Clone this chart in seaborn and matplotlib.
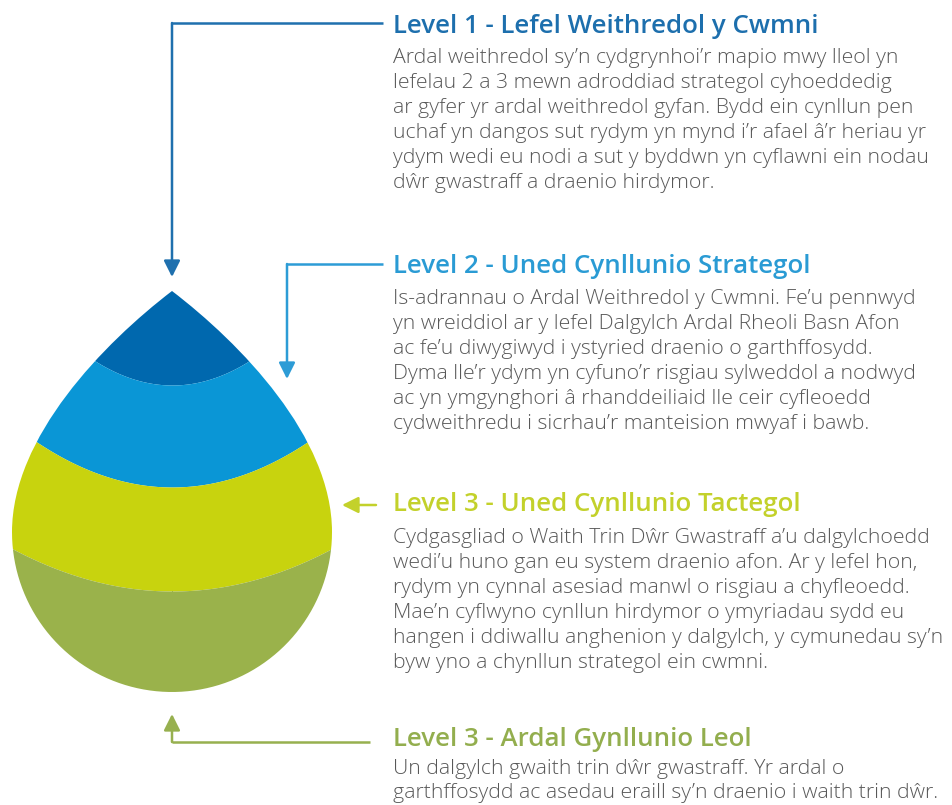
import numpy as np
import matplotlib
matplotlib.use("Agg")
import matplotlib.pyplot as plt
from matplotlib.path import Path
from matplotlib.patches import PathPatch
import seaborn as sns

# ---------------- data ----------------
levels = ["Level 1", "Level 2", "Level 3", "Level 3"]
names = ["Lefel Weithredol y Cwmni", "Uned Cynllunio Strategol",
         "Uned Cynllunio Tactegol", "Ardal Gynllunio Leol"]
body_level1 = [
    "Ardal weithredol sy’n cydgrynhoi’r mapio mwy lleol yn",
    "lefelau 2 a 3 mewn adroddiad strategol cyhoeddedig",
    "ar gyfer yr ardal weithredol gyfan. Bydd ein cynllun pen",
    "uchaf yn dangos sut rydym yn mynd i’r afael â’r heriau yr",
    "ydym wedi eu nodi a sut y byddwn yn cyflawni ein nodau",
    "dŵr gwastraff a draenio hirdymor.",
]
body_level2 = [
    "Is-adrannau o Ardal Weithredol y Cwmni. Fe’u pennwyd",
    "yn wreiddiol ar y lefel Dalgylch Ardal Rheoli Basn Afon",
    "ac fe’u diwygiwyd i ystyried draenio o garthffosydd.",
    "Dyma lle’r ydym yn cyfuno’r risgiau sylweddol a nodwyd",
    "ac yn ymgynghori â rhanddeiliaid lle ceir cyfleoedd",
    "cydweithredu i sicrhau’r manteision mwyaf i bawb.",
]
body_level3 = [
    "Cydgasgliad o Waith Trin Dŵr Gwastraff a’u dalgylchoedd",
    "wedi’u huno gan eu system draenio afon. Ar y lefel hon,",
    "rydym yn cynnal asesiad manwl o risgiau a chyfleoedd.",
    "Mae’n cyflwyno cynllun hirdymor o ymyriadau sydd eu",
    "hangen i ddiwallu anghenion y dalgylch, y cymunedau sy’n",
    "byw yno a chynllun strategol ein cwmni.",
]
body_level4 = [
    "Un dalgylch gwaith trin dŵr gwastraff. Yr ardal o",
    "garthffosydd ac asedau eraill sy’n draenio i waith trin dŵr.",
]
bodies = [body_level1, body_level2, body_level3, body_level4]

# band boundaries of the drop (edge height, dip at centre)
boundary_edge_y = [361, 442, 549]
boundary_dip = [24, 45, 42]

band_colors = ["#0068ae", "#0a96d6", "#c8d30e", "#9ab24b"]
title_colors = ["#1d6fad", "#2a9bd4", "#c3d12b", "#93ae4e"]
arrow_colors = ["#1f70ae", "#2d9cd6", "#c3d12b", "#97b04f"]
body_color = "#585858"

# ---------------- layout ----------------
W, H = 952, 805
cx = 172
apex_y = 291
circ_cy, circ_r = 532, 160

title_x = 393
title_base = [33, 273, 511, 746]
body_base0 = [63, 304, 543, 774]
line_gaps = [25.0, 25.0, 25.0, 23.5]

sns.set_theme(style="white")
plt.rcParams["font.family"] = ["Open Sans", "DejaVu Sans"]

fig = plt.figure(figsize=(W / 100, H / 100), dpi=100)
ax = fig.add_axes([0, 0, 1, 1])
ax.set_xlim(0, W)
ax.set_ylim(H, 0)
ax.axis("off")

# ---------------- drop outline ----------------
verts = [(cx, apex_y),
         (cx + 68, apex_y + 52), (cx + circ_r, circ_cy - 95), (cx + circ_r, circ_cy)]
codes = [Path.MOVETO, Path.CURVE4, Path.CURVE4, Path.CURVE4]
th = np.linspace(0, np.pi, 80)
for t in th[1:]:
    verts.append((cx + circ_r * np.cos(t), circ_cy + circ_r * np.sin(t)))
    codes.append(Path.LINETO)
verts += [(cx - circ_r, circ_cy - 95), (cx - 68, apex_y + 52), (cx, apex_y)]
codes += [Path.CURVE4, Path.CURVE4, Path.CURVE4]
drop_path = Path(verts, codes)
drop_patch = PathPatch(drop_path, facecolor="none", edgecolor="none")
ax.add_patch(drop_patch)

# half-widths at boundary heights (from the outline)
poly = drop_path.to_polygons()[0]
def half_width(y):
    right = poly[poly[:, 0] >= cx]
    order = np.argsort(right[:, 1])
    return np.interp(y, right[order, 1], right[order, 0]) - cx

xs = np.linspace(0, 350, 400)
curves = [np.full_like(xs, apex_y - 10.0)]
for ey, dip in zip(boundary_edge_y, boundary_dip):
    hw = half_width(ey)
    k = dip / hw ** 2
    curves.append(ey + dip - k * (xs - cx) ** 2)
curves.append(np.full_like(xs, circ_cy + circ_r + 10.0))

for i, col in enumerate(band_colors):
    poly_fill = ax.fill_between(xs, curves[i], curves[i + 1], color=col, lw=0)
    poly_fill.set_clip_path(drop_patch)

# ---------------- connectors ----------------
def connector(points, color):
    pts = np.array(points, dtype=float)
    ax.plot(pts[:-1, 0], pts[:-1, 1], color=color, lw=1.8, solid_capstyle="butt")
    ax.annotate("", xy=pts[-1], xytext=pts[-2],
                arrowprops=dict(arrowstyle="-|>,head_length=0.7,head_width=0.35",
                                color=color, lw=1.8, shrinkA=0, shrinkB=0,
                                mutation_scale=14))

connector([(383, 23), (cx, 23), (cx, 277)], arrow_colors[0])
connector([(383, 264), (287, 264), (287, 379)], arrow_colors[1])
connector([(376, 505), (342, 505)], arrow_colors[2])
connector([(370, 742), (cx, 742), (cx, 714)], arrow_colors[3])

# ---------------- texts ----------------
for i in range(4):
    ax.text(title_x, title_base[i], f"{levels[i]} - {names[i]}",
            color=title_colors[i], fontsize=18.6, fontweight="semibold",
            va="baseline", ha="left")
    for j, line in enumerate(bodies[i]):
        ax.text(title_x, body_base0[i] + j * line_gaps[i], line,
                color=body_color, fontsize=15.3, fontweight="light",
                va="baseline", ha="left")

fig.savefig("out.png", dpi=100, facecolor="white")
